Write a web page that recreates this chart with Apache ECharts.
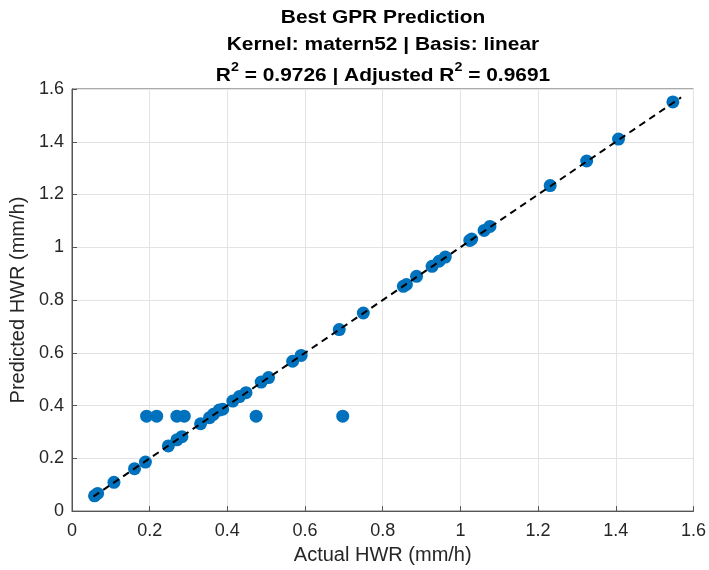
<!DOCTYPE html>
<html>
<head>
<meta charset="utf-8">
<script src="https://cdn.jsdelivr.net/npm/echarts@6/dist/echarts.min.js"></script>
<style>html,body{margin:0;padding:0;background:#fff;}#c{width:709px;height:570px;}</style>
</head>
<body>
<div id="c"></div>
<script>
const actualHWR = [0.058,0.066,0.108,0.161,0.189,0.248,0.270,0.283,0.331,0.354,0.364,0.379,0.388,0.414,0.431,0.448,0.487,0.506,0.568,0.590,0.688,0.750,0.853,0.861,0.887,0.927,0.945,0.961,1.024,1.029,1.061,1.076,1.231,1.325,1.407,1.547,0.192,0.218,0.270,0.289,0.474,0.697];
const predictedHWR = [0.058,0.067,0.109,0.161,0.186,0.247,0.270,0.282,0.331,0.354,0.367,0.383,0.386,0.417,0.434,0.449,0.489,0.506,0.568,0.590,0.688,0.751,0.852,0.859,0.890,0.928,0.947,0.963,1.026,1.031,1.064,1.079,1.234,1.327,1.410,1.551,0.360,0.360,0.360,0.360,0.360,0.360];
const refLine = [0.055, 1.568];
const xTicks = [0,0.2,0.4,0.6,0.8,1,1.2,1.4,1.6];
const yTicks = [0,0.2,0.4,0.6,0.8,1,1.2,1.4,1.6];
const titleLines = ['Best GPR Prediction','Kernel: matern52 | Basis: linear'];

const chart = echarts.init(document.getElementById('c'), null, {renderer:'canvas'});
const font = 'Liberation Sans, Arial, Helvetica, sans-serif';
const txt = '#262626';
const axisCommon = {
  min: 0, max: 1.6, interval: 0.2,
  axisLine: {show: true, onZero: false, lineStyle: {color: '#555', width: 1}},
  axisTick: {show: true, inside: true, length: 5, lineStyle: {color: '#555'}},
  splitLine: {show: true, lineStyle: {color: '#e3e3e3', width: 1}},
  axisLabel: {color: txt, fontSize: 18, fontFamily: font,
    formatter: v => String(Math.round(v*10)/10)},
  nameTextStyle: {color: txt, fontSize: 20, fontFamily: font}
};
const scatterData = actualHWR.map((a,i)=>[a, predictedHWR[i]]);
const tFont = 'bold 19px ' + font;
chart.setOption({
  animation: false,
  backgroundColor: '#fff',
  grid: {left: 72, right: 15, top: 89, bottom: 58, show: true, borderColor: '#555', borderWidth: 1, backgroundColor: 'transparent'},
  xAxis: Object.assign({}, axisCommon, {type: 'value', name: 'Actual HWR (mm/h)', nameLocation: 'middle', nameGap: 32,
    axisLabel: Object.assign({}, axisCommon.axisLabel, {margin: 11})}),
  yAxis: Object.assign({}, axisCommon, {type: 'value', name: 'Predicted HWR (mm/h)', nameLocation: 'middle', nameGap: 43,
    axisLabel: Object.assign({}, axisCommon.axisLabel, {margin: 8})}),
  series: [
    {type: 'scatter', data: scatterData, symbolSize: 13, itemStyle: {color: '#0072BD', opacity: 1}, z: 2},
    {type: 'line', data: [[refLine[0], refLine[0]], [refLine[1], refLine[1]]], showSymbol: false, symbol: 'none',
      lineStyle: {color: '#000', width: 2, type: [7,5]}, z: 3}
  ],
  graphic: [
    {type: 'text', x: 383, y: 18, scaleX: 1.1, style: {text: titleLines[0], font: tFont, fill: '#000', align: 'center', verticalAlign: 'middle'}},
    {type: 'text', x: 383, y: 45, scaleX: 1.1, style: {text: titleLines[1], font: tFont, fill: '#000', align: 'center', verticalAlign: 'middle'}},
    {type: 'text', x: 383, y: 73, scaleX: 1.1, style: {
      text: '{a|R}{s|2}{a| = 0.9726 | Adjusted R}{s|2}{a| = 0.9691}',
      align: 'center', verticalAlign: 'middle', fill: '#000',
      rich: {
        a: {fontSize: 19, fontWeight: 'bold', fontFamily: font, fill: '#000', color: '#000', verticalAlign: 'bottom', lineHeight: 24},
        s: {fontSize: 13, fontWeight: 'bold', fontFamily: font, fill: '#000', color: '#000', verticalAlign: 'top', lineHeight: 24, padding: [0,0,7,0]}
      }}}
  ]
});
</script>
</body>
</html>
